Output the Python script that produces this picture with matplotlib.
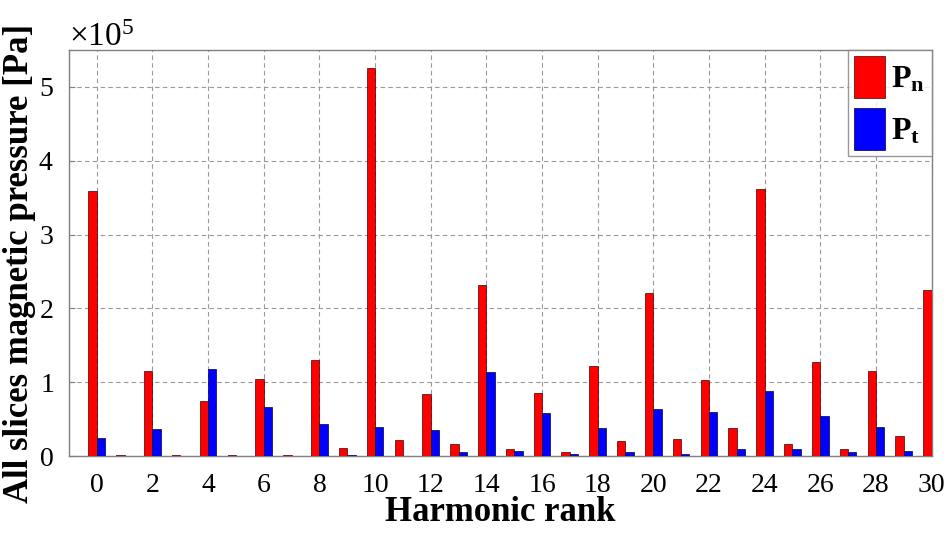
import matplotlib
matplotlib.use("Agg")
import matplotlib.pyplot as plt
import numpy as np
from matplotlib.ticker import ScalarFormatter

plt.rcParams['font.family'] = ['Liberation Serif', 'DejaVu Serif']
plt.rcParams['mathtext.fontset'] = 'custom'
plt.rcParams['mathtext.rm'] = 'Liberation Serif'
plt.rcParams['mathtext.it'] = 'Liberation Serif:italic'
plt.rcParams['mathtext.bf'] = 'Liberation Serif:bold'

harmonic_rank = list(range(31))
# values in units of 1e5 Pa
Pn = [3.59, 0.01, 1.155, 0.01, 0.745, 0.01, 1.04, 0.01, 1.30, 0.11,
      5.25, 0.22, 0.84, 0.17, 2.31, 0.095, 0.86, 0.06, 1.22, 0.20,
      2.21, 0.23, 1.03, 0.375, 3.62, 0.17, 1.27, 0.10, 1.15, 0.275, 2.25]
Pt = [0.24, 0.005, 0.37, 0.005, 1.18, 0.005, 0.66, 0.005, 0.43, 0.01,
      0.40, 0.005, 0.35, 0.05, 1.14, 0.07, 0.58, 0.03, 0.375, 0.05,
      0.64, 0.035, 0.60, 0.095, 0.88, 0.10, 0.54, 0.06, 0.39, 0.065, 0.30]
scale = 1e5
xticks = list(range(0, 31, 2))
yticks = [0, 1, 2, 3, 4, 5]

fig = plt.figure(figsize=(9.52, 5.36), dpi=100)
ax = fig.add_axes([0.0725, 0.149, 0.906, 0.758])

x = np.array(harmonic_rank)
w = 0.3
ax.bar(x - w/2, np.array(Pn) * scale, width=w, color='#ff0000',
       edgecolor='#400000', linewidth=0.5, label=r'$\mathbf{P_n}$', zorder=3)
ax.bar(x + w/2, np.array(Pt) * scale, width=w, color='#0000ff',
       edgecolor='#000040', linewidth=0.5, label=r'$\mathbf{P_t}$', zorder=3)

ax.set_xlim(-1, 30)
ax.set_ylim(0, 5.5 * scale)
ax.set_xticks(xticks)
ax.set_yticks([v * scale for v in yticks])

fmt = ScalarFormatter(useMathText=True)
fmt.set_powerlimits((0, 0))
ax.yaxis.set_major_formatter(fmt)
ax.yaxis.get_offset_text().set_fontsize(24)

ax.grid(True, linestyle=(0, (4, 3)), color='#999999', linewidth=0.8, zorder=0)
for s in ax.spines.values():
    s.set_color('#808080')
    s.set_linewidth(1.0)
ax.tick_params(direction='in', length=4, labelsize=20, color='#808080',
               top=False, right=False)
ax.tick_params(axis='x', pad=12)
ax.tick_params(axis='y', pad=11)

ax.set_xlabel('Harmonic rank', fontsize=25, fontweight='bold', labelpad=-1)
ax.set_ylabel('All slices magnetic pressure [Pa]', fontsize=25, fontweight='bold', labelpad=0)
ax.yaxis.set_label_coords(-0.038, 0.475)

leg = ax.legend(loc='upper right', fontsize=23, frameon=True, fancybox=False,
                handlelength=0.95, handleheight=1.65, handletextpad=0.2,
                borderpad=0.2, labelspacing=0.3, borderaxespad=0.0)
leg.get_frame().set_edgecolor('#808080')
leg.get_frame().set_linewidth(1.0)

fig.savefig('out.png', dpi=100)
